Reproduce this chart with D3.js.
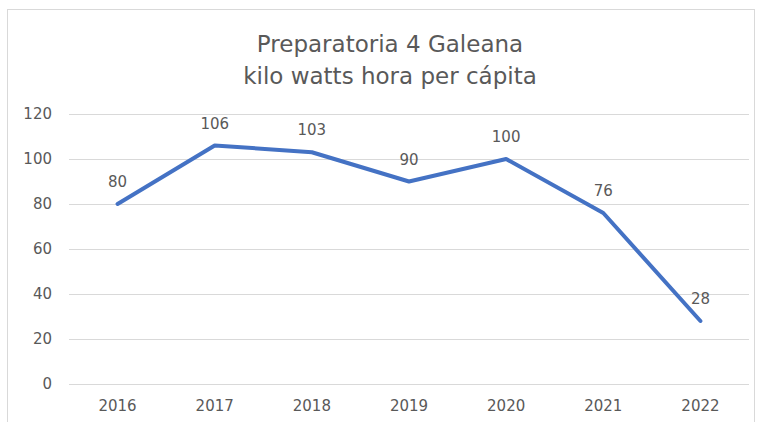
<!DOCTYPE html>
<html>
<head>
<meta charset="utf-8">
<script src="https://cdn.jsdelivr.net/npm/d3@7"></script>
<style>
  body { margin: 0; background: #fff; }
  text { font-family: "DejaVu Sans", sans-serif; fill: #595959; }
</style>
</head>
<body>
<div id="chart-area"></div>
<script>
var years = ["2016", "2017", "2018", "2019", "2020", "2021", "2022"];
var kwh = [80, 106, 103, 90, 100, 76, 28];
var yTicks = [0, 20, 40, 60, 80, 100, 120];
var titleLines = ["Preparatoria 4 Galeana", "kilo watts hora per cápita"];

var width = 758;
var height = 422;
var margin = {top: 114, right: 9, bottom: 38, left: 69};

var svg = d3.select("#chart-area").append("svg")
    .attr("width", width)
    .attr("height", height);

// chart frame
svg.append("rect")
    .attr("x", 7.5)
    .attr("y", 9.5)
    .attr("width", 747)
    .attr("height", 430)
    .attr("fill", "none")
    .attr("stroke", "#d9d9d9");

var innerW = width - margin.left - margin.right;
var innerH = height - margin.top - margin.bottom;

var g = svg.append("g")
    .attr("transform", "translate(" + margin.left + ", " + margin.top + ")");

var x = d3.scaleBand()
    .domain(years)
    .range([0, innerW]);

var y = d3.scaleLinear()
    .domain([0, 120])
    .range([innerH, 0]);

// gridlines
g.selectAll(".grid")
    .data(yTicks)
    .enter()
    .append("line")
        .attr("class", "grid")
        .attr("x1", 0)
        .attr("x2", innerW)
        .attr("y1", (d) => { return Math.round(y(d)) + 0.5; })
        .attr("y2", (d) => { return Math.round(y(d)) + 0.5; })
        .attr("stroke", "#d9d9d9")
        .attr("stroke-width", 1);

var yAxisGroup = g.append("g")
    .call(d3.axisLeft(y).tickValues(yTicks).tickSize(0).tickPadding(17));
yAxisGroup.select(".domain").remove();
yAxisGroup.selectAll("text")
    .attr("font-size", "15px")
    .attr("font-family", "DejaVu Sans, sans-serif")
    .attr("fill", "#595959");

var xAxisGroup = g.append("g")
    .attr("transform", "translate(0, " + innerH + ")")
    .call(d3.axisBottom(x).tickSize(0).tickPadding(16));
xAxisGroup.select(".domain").remove();
xAxisGroup.selectAll("text")
    .attr("font-size", "15px")
    .attr("font-family", "DejaVu Sans, sans-serif")
    .attr("fill", "#595959");

var line = d3.line()
    .x((d, i) => { return x(years[i]) + x.bandwidth() / 2; })
    .y((d) => { return y(d); });

g.append("path")
    .datum(kwh)
    .attr("d", line)
    .attr("fill", "none")
    .attr("stroke", "#4472c4")
    .attr("stroke-width", 4)
    .attr("stroke-linejoin", "round")
    .attr("stroke-linecap", "round");

g.selectAll(".label")
    .data(kwh)
    .enter()
    .append("text")
        .attr("class", "label")
        .attr("x", (d, i) => { return x(years[i]) + x.bandwidth() / 2; })
        .attr("y", (d) => { return y(d) - 17; })
        .attr("text-anchor", "middle")
        .attr("font-size", "15px")
        .text((d) => { return d; });

svg.selectAll(".title")
    .data(titleLines)
    .enter()
    .append("text")
        .attr("class", "title")
        .attr("x", 390)
        .attr("y", (d, i) => { return 52 + i * 32; })
        .attr("text-anchor", "middle")
        .attr("font-size", "23px")
        .text((d) => { return d; });
</script>
</body>
</html>
